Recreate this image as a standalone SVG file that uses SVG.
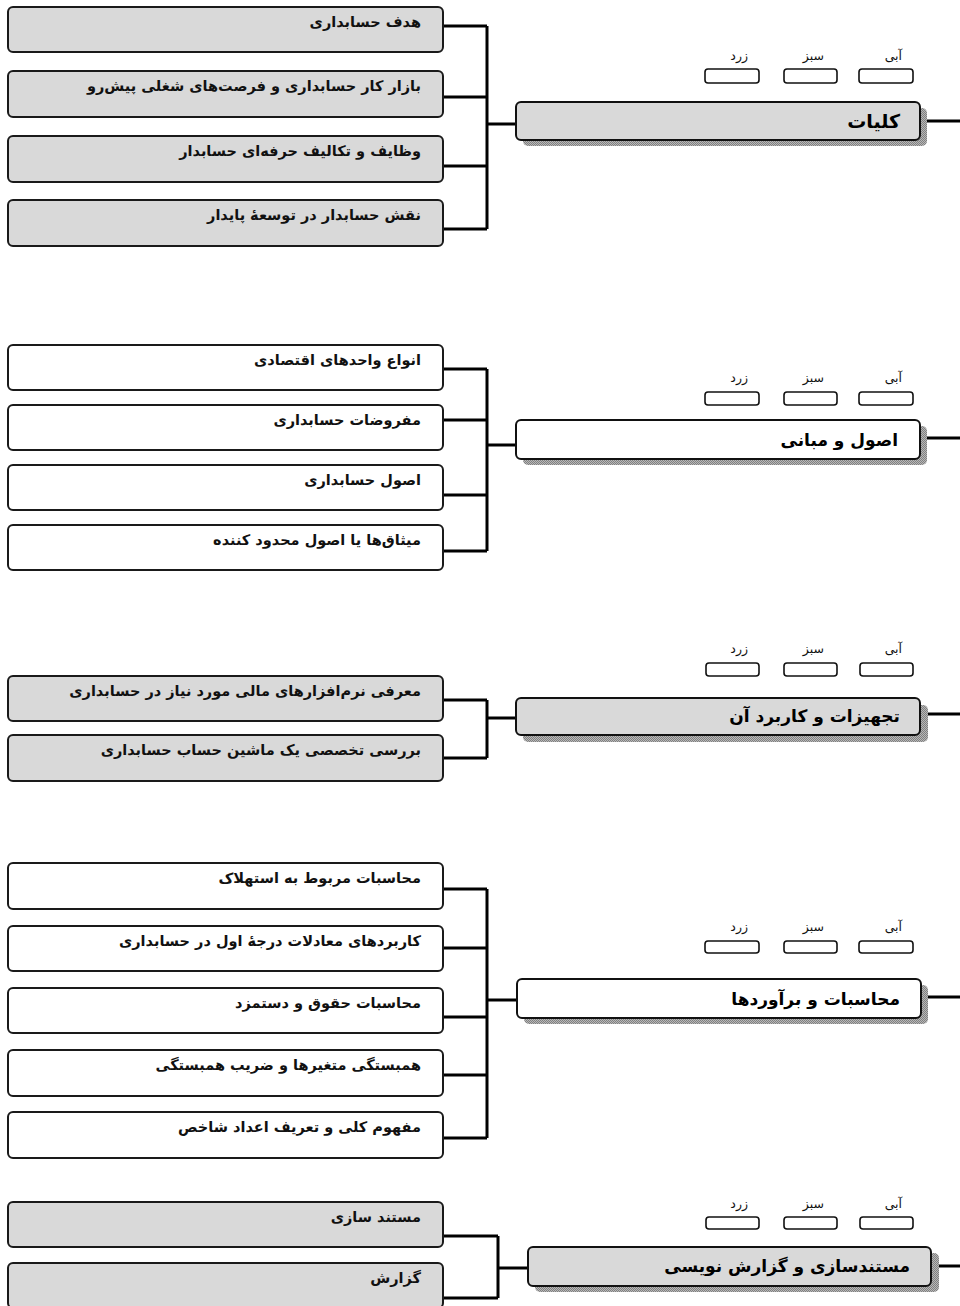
<svg xmlns="http://www.w3.org/2000/svg" width="960" height="1306" viewBox="0 0 960 1306">
<defs>
<pattern id="dots" width="2" height="2" patternUnits="userSpaceOnUse">
<rect width="2" height="2" fill="#b8b8b8"/>
<rect width="1" height="1" fill="#808080"/>
<rect x="1" y="1" width="1" height="1" fill="#808080"/>
</pattern>
</defs>
<style>
.leaf{stroke:#1a1a1a;stroke-width:2}
.g{fill:#d9d9d9}
.w{fill:#ffffff}
.main{stroke:#111;stroke-width:2}
.shadow{fill:url(#dots)}
.sm{fill:#fff;stroke:#111;stroke-width:1.6}
.lt{font-family:"DejaVu Sans",sans-serif;font-weight:bold;font-size:14.5px;fill:#111;text-anchor:end}
.tt{font-family:"DejaVu Sans",sans-serif;font-weight:bold;font-size:17px;fill:#000;text-anchor:end}
.tt2{font-size:19px}
.cl{font-family:"DejaVu Sans",sans-serif;font-size:12.5px;fill:#111;text-anchor:end}
.cn{fill:none;stroke:#000;stroke-width:3}
</style>

<g id="connectors">
<path class="cn" d="M443,26H487M443,97H487M443,166H487M443,229H487M487,26V229M487,124H516M920,121H960"/>
<path class="cn" d="M443,369H487M443,420H487M443,495H487M443,551H487M487,369V551M487,445H516M920,438H960"/>
<path class="cn" d="M443,700H487M443,758H487M487,700V758M487,718H516M920,714H960"/>
<path class="cn" d="M443,889H487M443,948H487M443,1017H487M443,1075H487M443,1138H487M487,889V1138M487,1000H517M921,997H960"/>
<path class="cn" d="M443,1236H498M443,1298H498M498,1236V1298M498,1268H528M931,1266H960"/>
</g>

<!-- Section 1 -->
<g id="main1">
<rect class="shadow" x="523" y="108" width="404" height="38" rx="5"/>
<rect class="main g" x="516" y="102" width="404" height="38" rx="5"/>
<text class="tt tt2" x="900" y="128">کلیات</text>
</g>
<g id="colors1">
<text class="cl" x="748" y="60">زرد</text><text class="cl" x="824" y="60">سبز</text><text class="cl" x="902" y="60">آبی</text>
<rect class="sm" x="705" y="69" width="54" height="14" rx="3"/><rect class="sm" x="784" y="69" width="53" height="14" rx="3"/><rect class="sm" x="859" y="69" width="54" height="14" rx="3"/>
</g>
<g id="n1a"><rect class="leaf g" x="8" y="7" width="435" height="45" rx="5"/><text class="lt" x="421" y="27">هدف حسابداری</text></g>
<g id="n1b"><rect class="leaf g" x="8" y="71" width="435" height="46" rx="5"/><text class="lt" x="421" y="91">بازار کار حسابداری و فرصت‌های شغلی پیش‌رو</text></g>
<g id="n1c"><rect class="leaf g" x="8" y="136" width="435" height="46" rx="5"/><text class="lt" x="421" y="156">وظایف و تکالیف حرفه‌ای حسابدار</text></g>
<g id="n1d"><rect class="leaf g" x="8" y="200" width="435" height="46" rx="5"/><text class="lt" x="421" y="220">نقش حسابدار در توسعهٔ پایدار</text></g>

<!-- Section 2 -->
<g id="main2">
<rect class="shadow" x="523" y="426" width="404" height="39" rx="5"/>
<rect class="main w" x="516" y="420" width="404" height="39" rx="5"/>
<text class="tt" x="898" y="446">اصول و مبانی</text>
</g>
<g id="colors2">
<text class="cl" x="748" y="382">زرد</text><text class="cl" x="824" y="382">سبز</text><text class="cl" x="902" y="382">آبی</text>
<rect class="sm" x="705" y="392" width="54" height="13" rx="3"/><rect class="sm" x="784" y="392" width="53" height="13" rx="3"/><rect class="sm" x="859" y="392" width="54" height="13" rx="3"/>
</g>
<g id="n2a"><rect class="leaf w" x="8" y="345" width="435" height="45" rx="5"/><text class="lt" x="421" y="365">انواع واحدهای اقتصادی</text></g>
<g id="n2b"><rect class="leaf w" x="8" y="405" width="435" height="45" rx="5"/><text class="lt" x="421" y="425">مفروضات حسابداری</text></g>
<g id="n2c"><rect class="leaf w" x="8" y="465" width="435" height="45" rx="5"/><text class="lt" x="421" y="485">اصول حسابداری</text></g>
<g id="n2d"><rect class="leaf w" x="8" y="525" width="435" height="45" rx="5"/><text class="lt" x="421" y="545">میثاق‌ها یا اصول محدود کننده</text></g>

<!-- Section 3 -->
<g id="main3">
<rect class="shadow" x="523" y="705" width="405" height="37" rx="5"/>
<rect class="main g" x="516" y="698" width="404" height="37" rx="5"/>
<text class="tt" x="900" y="722">تجهیزات و کاربرد آن</text>
</g>
<g id="colors3">
<text class="cl" x="748" y="653">زرد</text><text class="cl" x="824" y="653">سبز</text><text class="cl" x="902" y="653">آبی</text>
<rect class="sm" x="706" y="663" width="53" height="13" rx="3"/><rect class="sm" x="784" y="663" width="53" height="13" rx="3"/><rect class="sm" x="860" y="663" width="53" height="13" rx="3"/>
</g>
<g id="n3a"><rect class="leaf g" x="8" y="676" width="435" height="45" rx="5"/><text class="lt" x="421" y="696">معرفی نرم‌افزارهای مالی مورد نیاز در حسابداری</text></g>
<g id="n3b"><rect class="leaf g" x="8" y="735" width="435" height="46" rx="5"/><text class="lt" x="421" y="755">بررسی تخصصی یک ماشین حساب حسابداری</text></g>

<!-- Section 4 -->
<g id="main4">
<rect class="shadow" x="524" y="985" width="404" height="39" rx="5"/>
<rect class="main w" x="517" y="979" width="404" height="39" rx="5"/>
<text class="tt" x="900" y="1005">محاسبات و برآوردها</text>
</g>
<g id="colors4">
<text class="cl" x="748" y="931">زرد</text><text class="cl" x="824" y="931">سبز</text><text class="cl" x="902" y="931">آبی</text>
<rect class="sm" x="705" y="941" width="54" height="12" rx="3"/><rect class="sm" x="784" y="941" width="53" height="12" rx="3"/><rect class="sm" x="859" y="941" width="54" height="12" rx="3"/>
</g>
<g id="n4a"><rect class="leaf w" x="8" y="863" width="435" height="46" rx="5"/><text class="lt" x="421" y="883">محاسبات مربوط به استهلاک</text></g>
<g id="n4b"><rect class="leaf w" x="8" y="926" width="435" height="45" rx="5"/><text class="lt" x="421" y="946">کاربردهای معادلات درجهٔ اول در حسابداری</text></g>
<g id="n4c"><rect class="leaf w" x="8" y="988" width="435" height="45" rx="5"/><text class="lt" x="421" y="1008">محاسبات حقوق و دستمزد</text></g>
<g id="n4d"><rect class="leaf w" x="8" y="1050" width="435" height="46" rx="5"/><text class="lt" x="421" y="1070">همبستگی متغیرها و ضریب همبستگی</text></g>
<g id="n4e"><rect class="leaf w" x="8" y="1112" width="435" height="46" rx="5"/><text class="lt" x="421" y="1132">مفهوم کلی و تعریف اعداد شاخص</text></g>

<!-- Section 5 -->
<g id="main5">
<rect class="shadow" x="535" y="1253" width="404" height="39" rx="5"/>
<rect class="main g" x="528" y="1247" width="403" height="39" rx="5"/>
<text class="tt" x="910" y="1272">مستندسازی و گزارش نویسی</text>
</g>
<g id="colors5">
<text class="cl" x="748" y="1208">زرد</text><text class="cl" x="824" y="1208">سبز</text><text class="cl" x="902" y="1208">آبی</text>
<rect class="sm" x="706" y="1217" width="53" height="12" rx="3"/><rect class="sm" x="784" y="1217" width="53" height="12" rx="3"/><rect class="sm" x="860" y="1217" width="53" height="12" rx="3"/>
</g>
<g id="n5a"><rect class="leaf g" x="8" y="1202" width="435" height="45" rx="5"/><text class="lt" x="421" y="1222">مستند سازی</text></g>
<g id="n5b"><rect class="leaf g" x="8" y="1263" width="435" height="45" rx="5"/><text class="lt" x="421" y="1283">گزارش</text></g>
</svg>
